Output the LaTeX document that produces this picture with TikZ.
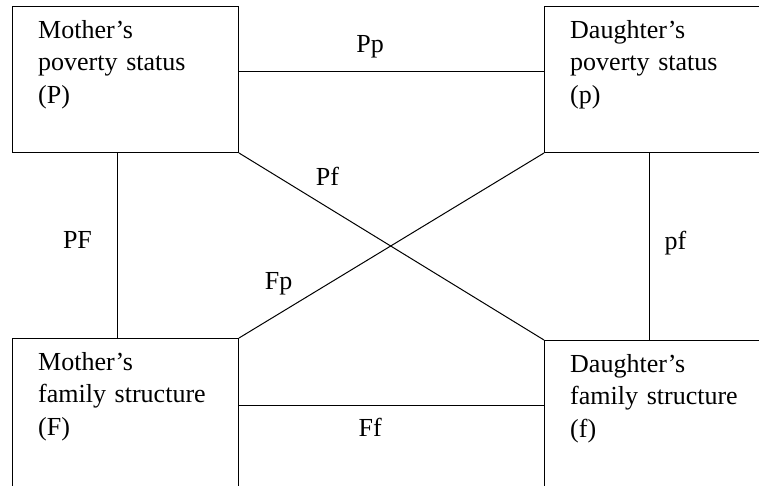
\documentclass[tikz,border=0pt]{standalone}
\usepackage{fontspec}
\setmainfont{Liberation Serif}
\usepackage{tikz}
\usetikzlibrary{positioning}

\begin{document}
\begin{tikzpicture}[
    x=1pt, y=-1pt,
    vbox/.style={draw, line width=1pt, minimum width=226pt, minimum height=146pt,
                 inner sep=0pt, anchor=north west},
    btext/.style={inner sep=0pt, align=left, text width=210pt,
                  font=\fontsize{26}{32.5}\selectfont},
    link/.style={line width=1pt},
    lbl/.style={inner sep=0pt, anchor=base, font=\fontsize{26}{30}\selectfont}
  ]
    \useasboundingbox (0,0) rectangle (759,485);
    \clip (0,0) rectangle (759,485);

    % the four variables
    \node[vbox]                                   (mp) at (12,6)    {};
    \node[vbox]                                   (dp) at (544,6)   {};
    \node[vbox, minimum height=150pt]             (mf) at (12,338)  {};
    \node[vbox, minimum height=150pt]             (df) at (544,340) {};

    \node[btext, below right=14pt and 26pt of mp.north west] (mptext) {Mother's\\poverty status\\(P)};
    \node[btext, below right=14pt and 26pt of dp.north west] (dptext) {Daughter's\\poverty status\\(p)};
    \node[btext, below right=14pt and 26pt of mf.north west] (mftext) {Mother's\\family structure\\(F)};
    \node[btext, below right=14pt and 26pt of df.north west] (dftext) {Daughter's\\family structure\\(f)};

    % horizontal links
    \draw[link] ([yshift=8pt]mp.east) -- ([yshift=8pt]mp.east -| dp.west)
          node[lbl, pos=0.43, yshift=19pt] {Pp};
    \draw[link] ([yshift=8pt]mf.east) -- ([yshift=8pt]mf.east -| df.west)
          node[lbl, pos=0.43, yshift=-31pt] {Ff};

    % vertical links
    \draw[link] ([xshift=-8pt]mp.south) -- ([xshift=-8pt]mp.south |- mf.north)
          node[lbl, pos=0.516, xshift=-40pt] {PF};
    \draw[link] ([xshift=-8pt]dp.south) -- ([xshift=-8pt]dp.south |- df.north)
          node[lbl, pos=0.516, xshift=26pt] {pf};

    % cross links
    \draw[link] (mp.south east) -- (df.north west)
          node[lbl, pos=0.29, yshift=22pt] {Pf};
    \draw[link] (mf.north east) -- (dp.south west)
          node[lbl, pos=0.13, yshift=24pt] {Fp};

  \end{tikzpicture}
\end{document}
